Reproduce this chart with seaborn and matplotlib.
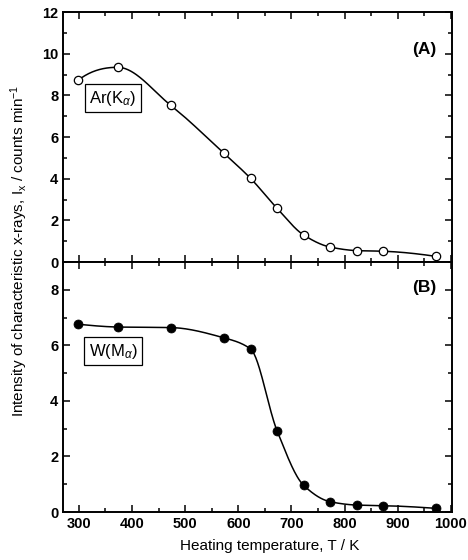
import numpy as np
import pandas as pd
import matplotlib
matplotlib.use("Agg")
import matplotlib.pyplot as plt
from matplotlib.ticker import MultipleLocator
import seaborn as sns

# Data
temp_K = [298, 373, 473, 573, 623, 673, 723, 773, 823, 873, 973]
ar_counts = [8.72, 9.35, 7.52, 5.22, 4.02, 2.58, 1.30, 0.72, 0.55, 0.52, 0.27]
w_counts = [6.76, 6.66, 6.64, 6.27, 5.87, 2.92, 0.96, 0.37, 0.25, 0.23, 0.13]


def pchip(x, y, xs):
    # monotone cubic guide line through the measured points
    x = np.asarray(x, float)
    y = np.asarray(y, float)
    h = np.diff(x)
    d = np.diff(y) / h
    n = len(x)
    m = np.zeros(n)
    for k in range(1, n - 1):
        if d[k - 1] * d[k] > 0:
            w1 = 2 * h[k] + h[k - 1]
            w2 = h[k] + 2 * h[k - 1]
            m[k] = (w1 + w2) / (w1 / d[k - 1] + w2 / d[k])
    for k, (h0, h1, d0, d1) in [(0, (h[0], h[1], d[0], d[1])), (n - 1, (h[-1], h[-2], d[-1], d[-2]))]:
        e = ((2 * h0 + h1) * d0 - h0 * d1) / (h0 + h1)
        if np.sign(e) != np.sign(d0):
            e = 0.0
        elif np.sign(d0) != np.sign(d1) and abs(e) > abs(3 * d0):
            e = 3 * d0
        m[k] = e
    idx = np.clip(np.searchsorted(x, xs) - 1, 0, n - 2)
    t = (xs - x[idx]) / h[idx]
    h00 = 2 * t**3 - 3 * t**2 + 1
    h10 = t**3 - 2 * t**2 + t
    h01 = -2 * t**3 + 3 * t**2
    h11 = t**3 - t**2
    return h00 * y[idx] + h10 * h[idx] * m[idx] + h01 * y[idx + 1] + h11 * h[idx] * m[idx + 1]


sns.set_style("ticks")
plt.rcParams["font.family"] = ["Liberation Sans", "DejaVu Sans"]
plt.rcParams["mathtext.fontset"] = "custom"
plt.rcParams["mathtext.rm"] = "Liberation Sans"
plt.rcParams["mathtext.it"] = "Liberation Sans:italic"
plt.rcParams["text.color"] = "black"
plt.rcParams["xtick.color"] = "black"
plt.rcParams["ytick.color"] = "black"
plt.rcParams["axes.edgecolor"] = "black"

fig = plt.figure(figsize=(4.68, 5.6), dpi=100)
ax1 = fig.add_axes([0.1346, 0.532, 0.831, 0.4464])
ax2 = fig.add_axes([0.1346, 0.0857, 0.831, 0.4464])

xs = np.linspace(min(temp_K), max(temp_K), 400)
df = pd.DataFrame({"T": temp_K, "Ar": ar_counts, "W": w_counts})

# (A) Ar
sns.lineplot(x=xs, y=pchip(temp_K, ar_counts, xs), ax=ax1, color="black", lw=1.1)
sns.scatterplot(data=df, x="T", y="Ar", ax=ax1, s=36, facecolor="white",
                edgecolor="black", linewidth=0.9, zorder=3)
# (B) W
sns.lineplot(x=xs, y=pchip(temp_K, w_counts, xs), ax=ax2, color="black", lw=1.1)
sns.scatterplot(data=df, x="T", y="W", ax=ax2, s=42, color="black",
                edgecolor="black", zorder=3)

tick_font = dict(fontweight="bold", fontsize=10.5)
for ax in (ax1, ax2):
    ax.set_xlim(270, 1002)
    ax.set_xticks([300, 400, 500, 600, 700, 800, 900, 1000])
    ax.xaxis.set_minor_locator(MultipleLocator(50))
    ax.yaxis.set_minor_locator(MultipleLocator(1))
    ax.tick_params(which="both", direction="in", top=True, right=True, width=1.1)
    ax.tick_params(which="major", length=5)
    ax.tick_params(which="minor", length=3)
    ax.set_xlabel("")
    ax.set_ylabel("")
    for sp in ax.spines.values():
        sp.set_linewidth(1.4)

ax1.set_ylim(0, 12)
ax1.set_yticks([0, 2, 4, 6, 8, 10, 12])
ax1.set_yticklabels(["0", "2", "4", "6", "8", "10", "12"], **tick_font)
ax1.tick_params(labelbottom=False)
ax2.set_ylim(0, 9)
ax2.set_yticks([0, 2, 4, 6, 8])
ax2.set_yticklabels(["0", "2", "4", "6", "8"], **tick_font)
ax2.set_xticklabels(["300", "400", "500", "600", "700", "800", "900", "1000"], **tick_font)

box = dict(boxstyle="square,pad=0.25", facecolor="white", edgecolor="black", lw=0.9)
ax1.text(0.1285, 0.656, r"Ar(K$_\alpha$)", transform=ax1.transAxes, fontsize=12,
         ha="center", va="center", bbox=box)
ax2.text(0.1285, 0.644, r"W(M$_\alpha$)", transform=ax2.transAxes, fontsize=12,
         ha="center", va="center", bbox=box)
ax1.text(0.93, 0.852, "(A)", transform=ax1.transAxes, fontsize=12.5,
         fontweight="bold", ha="center", va="center")
ax2.text(0.93, 0.90, "(B)", transform=ax2.transAxes, fontsize=12.5,
         fontweight="bold", ha="center", va="center")

fig.text(0.577, 1 - 546 / 560, "Heating temperature, T / K", ha="center",
         va="center", fontsize=11)
fig.text(0.04, 1 - 251 / 560,
         r"Intensity of characteristic x-rays, I$_\mathrm{x}$ / counts min$^{-1}$",
         rotation=90, ha="center", va="center", fontsize=11)

fig.savefig("out.png", dpi=100)
